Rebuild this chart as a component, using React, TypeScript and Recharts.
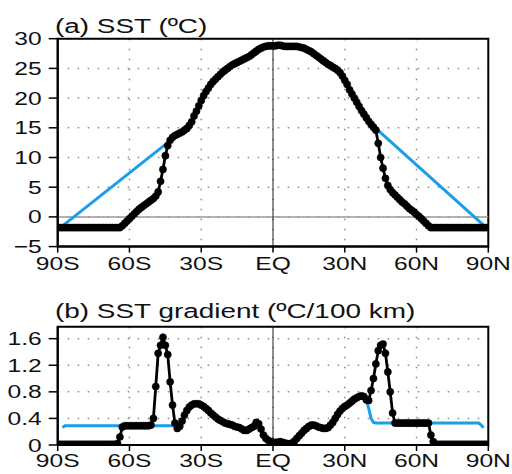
import React from "react"
import { LineChart, Line, XAxis, YAxis, CartesianGrid, ReferenceLine, ReferenceArea } from "recharts"

// latitude grid, 1 degree, 90S..90N
const LATS = Array.from({ length: 181 }, (_, i) => i - 90)
const LAT_TICKS = [-90, -60, -30, 0, 30, 60, 90]
const SST_TICKS = [-5, 0, 5, 10, 15, 20, 25, 30]
const GRAD_TICKS = [0, 0.4, 0.8, 1.2, 1.6]

const SST = [
  -1.8, -1.8, -1.8, -1.8, -1.8, -1.8, -1.8, -1.8, -1.8, -1.8, // 90S..81S
  -1.8, -1.8, -1.8, -1.8, -1.8, -1.8, -1.8, -1.8, -1.8, -1.8, // 80S..71S
  -1.8, -1.8, -1.8, -1.8, -1.8, -1.8, -1.8, -1.5, -1.1, -0.7, // 70S..61S
  -0.3, 0.1, 0.5, 0.9, 1.3, 1.6, 1.9, 2.2, 2.5, 2.8, // 60S..51S
  3.1, 3.5, 4.2, 6.0, 8.0, 10.3, 12.0, 12.9, 13.4, 13.7, // 50S..41S
  13.9, 14.1, 14.3, 14.6, 14.9, 15.4, 16.0, 17.0, 17.8, 18.7, // 40S..31S
  19.6, 20.4, 21.1, 21.7, 22.3, 22.8, 23.2, 23.6, 24.0, 24.4, // 30S..21S
  24.7, 25.0, 25.3, 25.6, 25.8, 26.0, 26.2, 26.4, 26.6, 26.8, // 20S..11S
  27.0, 27.3, 27.6, 27.9, 28.2, 28.4, 28.6, 28.7, 28.8, 28.8, // 10S..1S
  28.8, 28.8, 28.9, 28.9, 28.8, 28.7, 28.7, 28.7, 28.7, 28.7, // EQ..9N
  28.7, 28.6, 28.5, 28.4, 28.2, 28.0, 27.8, 27.5, 27.2, 26.9, // 10N..19N
  26.6, 26.3, 26.0, 25.7, 25.5, 25.2, 25.0, 24.7, 24.3, 23.7, // 20N..29N
  23.0, 22.3, 21.4, 20.7, 20.0, 19.3, 18.6, 17.9, 17.3, 16.7, // 30N..39N
  16.1, 15.6, 15.1, 14.6, 12.4, 10.0, 8.2, 6.5, 5.3, 4.6, // 40N..49N
  4.1, 3.7, 3.3, 2.9, 2.5, 2.2, 1.8, 1.4, 1.1, 0.8, // 50N..59N
  0.4, 0.1, -0.3, -0.7, -1.1, -1.5, -1.8, -1.8, -1.8, -1.8, // 60N..69N
  -1.8, -1.8, -1.8, -1.8, -1.8, -1.8, -1.8, -1.8, -1.8, -1.8, // 70N..79N
  -1.8, -1.8, -1.8, -1.8, -1.8, -1.8, -1.8, -1.8, -1.8, -1.8, // 80N..89N
  -1.8, // 90N
]

// (b) SST gradient (degC/100 km)
const GRAD = [
  0.01, 0.01, 0.01, 0.01, 0.01, 0.01, 0.01, 0.01, 0.01, 0.01, // 90S..81S
  0.01, 0.01, 0.01, 0.01, 0.01, 0.01, 0.01, 0.01, 0.01, 0.01, // 80S..71S
  0.01, 0.01, 0.01, 0.01, 0.01, 0.02, 0.12, 0.27, 0.29, 0.29, // 70S..61S
  0.29, 0.29, 0.29, 0.29, 0.29, 0.29, 0.29, 0.29, 0.29, 0.3, // 60S..51S
  0.4, 0.88, 1.38, 1.5, 1.62, 1.5, 1.36, 0.95, 0.6, 0.33, // 50S..41S
  0.25, 0.28, 0.36, 0.45, 0.52, 0.57, 0.6, 0.62, 0.62, 0.62, // 40S..31S
  0.6, 0.58, 0.55, 0.52, 0.48, 0.45, 0.42, 0.39, 0.37, 0.35, // 30S..21S
  0.33, 0.32, 0.31, 0.3, 0.28, 0.27, 0.26, 0.24, 0.22, 0.22, // 20S..11S
  0.24, 0.26, 0.28, 0.34, 0.32, 0.24, 0.15, 0.1, 0.07, 0.05, // 10S..1S
  0.04, 0.04, 0.04, 0.05, 0.04, 0.03, 0.02, 0.02, 0.03, 0.06, // EQ..9N
  0.1, 0.14, 0.18, 0.22, 0.25, 0.28, 0.3, 0.3, 0.29, 0.27, // 10N..19N
  0.26, 0.25, 0.25, 0.26, 0.3, 0.34, 0.4, 0.46, 0.51, 0.55, // 20N..29N
  0.58, 0.6, 0.63, 0.66, 0.69, 0.71, 0.73, 0.74, 0.73, 0.68, // 30N..39N
  0.67, 0.82, 1.0, 1.22, 1.42, 1.5, 1.52, 1.38, 1.1, 0.8, // 40N..49N
  0.48, 0.33, 0.33, 0.33, 0.33, 0.33, 0.33, 0.33, 0.33, 0.33, // 50N..59N
  0.33, 0.33, 0.33, 0.33, 0.33, 0.33, 0.15, 0.05, 0.01, 0.01, // 60N..69N
  0.01, 0.01, 0.01, 0.01, 0.01, 0.01, 0.01, 0.01, 0.01, 0.01, // 70N..79N
  0.01, 0.01, 0.01, 0.01, 0.01, 0.01, 0.01, 0.01, 0.01, 0.01, // 80N..89N
  0.01, // 90N
]

// blue (modified) profiles, [lat, value]
const SST_MOD_S: [number, number][] = [[-88, -1.5], [-44, 12.5]]
const SST_MOD_N: [number, number][] = [[43, 14.9], [88, -1.4]]
const GRAD_MOD_S: [number, number][] = [[-88, 0.26], [-87, 0.29], [-41, 0.29]]
const GRAD_MOD_N: [number, number][] = [[39, 0.68], [40, 0.55], [41, 0.4], [42, 0.34], [43, 0.33], [86, 0.33], [87, 0.3], [88, 0.26]]

const BLUE = "#1a9ee8"
const FONT = "'Liberation Sans', Arial, Helvetica, sans-serif"
const SX = 1.33
const FS = 18.5

function fmtLat(v: number) {
  if (v === 0) return "EQ"
  return v < 0 ? `${-v}S` : `${v}N`
}
function fmtNum(v: number) {
  return v < 0 ? `\u2212${-v}` : String(v)
}

function pick(pairs: [number, number][], lat: number) {
  const hit = pairs.find((p) => p[0] === lat)
  return hit ? hit[1] : null
}

const sstData = LATS.map((lat, i) => ({
  lat,
  sst: SST[i],
  modS: pick(SST_MOD_S, lat),
  modN: pick(SST_MOD_N, lat),
}))
const gradData = LATS.map((lat, i) => ({
  lat,
  grad: GRAD[i],
  modS: pick(GRAD_MOD_S, lat),
  modN: pick(GRAD_MOD_N, lat),
}))

const XTick = ({ x, y, payload }: any) => (
  <g transform={`translate(${x},${y}) scale(${SX},1)`}>
    <text x={0} y={0} dy="0.71em" textAnchor="middle" fontSize={FS} fontFamily={FONT} fill="#111">
      {fmtLat(payload.value)}
    </text>
  </g>
)

const YTick = ({ x, y, payload }: any) => (
  <g transform={`translate(${x},${y}) scale(${SX},1)`}>
    <text x={0} y={0} dy="0.355em" textAnchor="end" fontSize={FS} fontFamily={FONT} fill="#111">
      {fmtNum(payload.value)}
    </text>
  </g>
)

const dotStyle = { r: 3.6, fill: "#000", stroke: "#000", strokeWidth: 0.5 }
const gridProps = { stroke: "#8a8a8a", strokeWidth: 1.5, strokeDasharray: "1.5 8.5" }

function Panel({ data, valueKey, domain, ticks, top, height, marginTop, xHeight, xMargin, zeroLine }: any) {
  return (
    <div style={{ position: "absolute", left: 0, top, width: 512, height }}>
      <LineChart width={512} height={height} data={data} margin={{ top: marginTop, right: 23.7, bottom: 0, left: 0 }}>
        <CartesianGrid {...gridProps} />
        <XAxis
          dataKey="lat"
          type="number"
          domain={[-90, 90]}
          ticks={LAT_TICKS}
          allowDataOverflow
          height={xHeight}
          tickSize={6}
          tickMargin={xMargin}
          tick={<XTick />}
          axisLine={{ stroke: "#000", strokeWidth: 2 }}
          tickLine={{ stroke: "#000", strokeWidth: 1.5 }}
        />
        <YAxis
          type="number"
          domain={domain}
          ticks={ticks}
          allowDataOverflow
          width={57.7}
          tickSize={9}
          tickMargin={7}
          tick={<YTick />}
          axisLine={{ stroke: "#000", strokeWidth: 2 }}
          tickLine={{ stroke: "#000", strokeWidth: 1.5 }}
        />
        {zeroLine ? <ReferenceLine y={0} stroke="#9a9a9a" strokeWidth={1.5} /> : null}
        <ReferenceLine x={0} stroke="#222" strokeWidth={1} />
        <Line dataKey="modS" stroke={BLUE} strokeWidth={3} dot={false} connectNulls isAnimationActive={false} />
        <Line dataKey="modN" stroke={BLUE} strokeWidth={3} dot={false} connectNulls isAnimationActive={false} />
        <Line dataKey={valueKey} stroke="#000" strokeWidth={2.8} dot={dotStyle} isAnimationActive={false} />
        <ReferenceArea x1={-90} x2={90} y1={domain[0]} y2={domain[1]} fill="none" stroke="#000" strokeWidth={2} fillOpacity={0} />
      </LineChart>
    </div>
  )
}

export default function App() {
  return (
    <div style={{ position: "absolute", left: 0, top: 0, width: 512, height: 474, background: "#fff", overflow: "hidden" }}>
      <Panel data={sstData} valueKey="sst" domain={[-5, 30]} ticks={SST_TICKS} top={0} height={280} marginTop={38.7} xHeight={33.4} xMargin={4} zeroLine />
      <Panel data={gradData} valueKey="grad" domain={[0, 1.78]} ticks={GRAD_TICKS} top={280} height={194} marginTop={46.7} xHeight={29} xMargin={3} />
      <svg width={512} height={474} style={{ position: "absolute", left: 0, top: 0, pointerEvents: "none" }}>
        <g transform={`translate(55,33) scale(${SX},1)`}>
          <text fontSize={21} fontFamily={FONT} fill="#111">(a) SST (ºC)</text>
        </g>
        <g transform={`translate(55,318) scale(${SX},1)`}>
          <text fontSize={21} fontFamily={FONT} fill="#111">(b) SST gradient (ºC/100 km)</text>
        </g>
      </svg>
    </div>
  )
}
